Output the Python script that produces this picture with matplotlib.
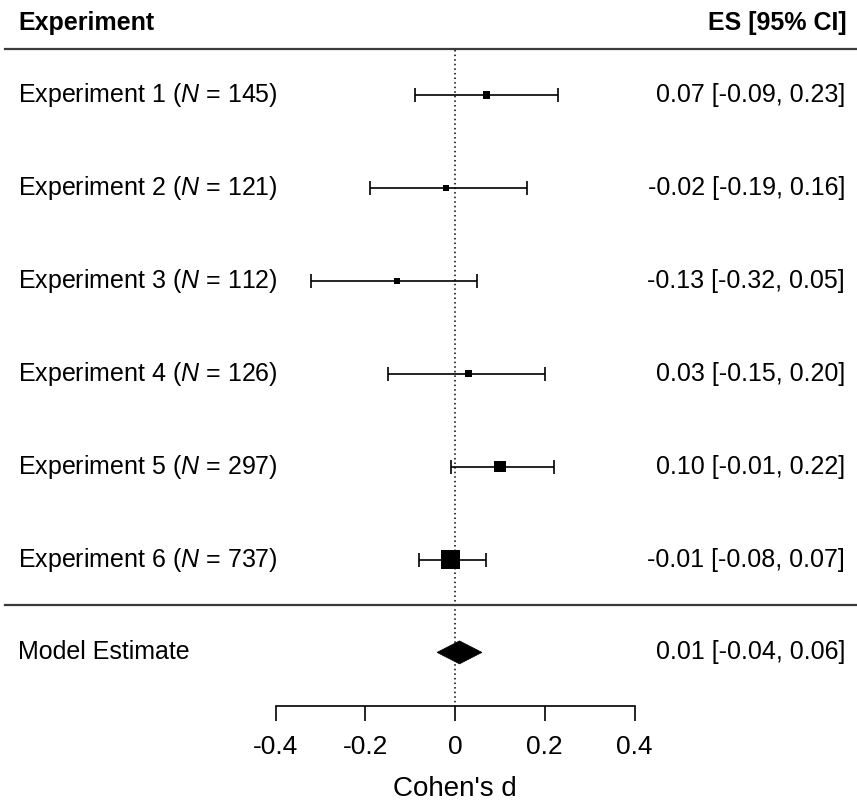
import matplotlib.pyplot as plt
import matplotlib.transforms as mtransforms
from matplotlib.patches import Polygon
import numpy as np

plt.rcParams['font.family'] = ['Liberation Sans', 'DejaVu Sans']
plt.rcParams['mathtext.fontset'] = 'custom'
plt.rcParams['mathtext.it'] = 'Liberation Sans:italic'
plt.rcParams['mathtext.rm'] = 'Liberation Sans'

# data
studies = ['Experiment 1', 'Experiment 2', 'Experiment 3',
           'Experiment 4', 'Experiment 5', 'Experiment 6']
n_obs = [145, 121, 112, 126, 297, 737]
es = np.array([0.07, -0.02, -0.13, 0.03, 0.10, -0.01])
ci_lo = np.array([-0.09, -0.19, -0.32, -0.15, -0.01, -0.08])
ci_hi = np.array([0.23, 0.16, 0.05, 0.20, 0.22, 0.07])
model_es, model_lo, model_hi = 0.01, -0.04, 0.06
ticks = [-0.4, -0.2, 0, 0.2, 0.4]
tick_labels = ['-0.4', '-0.2', '0', '0.2', '0.4']

W, H = 857, 805
fig = plt.figure(figsize=(W / 100, H / 100), dpi=100)
# axes spans from the top of the figure down to the x axis line
ax = fig.add_axes([275.5 / W, (H - 706) / H, 359 / W, 706 / H])
ax.set_xlim(-0.4, 0.4)
row_px = 92.9
top_px = 95
ax.set_ylim((706 - top_px) / row_px, -top_px / row_px)

def py(p):
    # pixel row -> data y
    return (p - top_px) / row_px

rows = np.arange(len(studies))
model_row = len(studies)

# box sizes like metafor: scaled 1/se into 0.5..1.5
inv_se = 3.92 / (ci_hi - ci_lo)
psize = 0.5 + (inv_se - inv_se.min()) / (inv_se.max() - inv_se.min())
box_px = psize * 12.4

ax.plot([0, 0], [py(50), py(706)], color='black', linestyle=(0, (1, 2)),
        linewidth=1.1, clip_on=False, zorder=1)

ax.errorbar(es, rows, xerr=[es - ci_lo, ci_hi - es], fmt='none',
            ecolor='black', elinewidth=1.2, capsize=5, capthick=1.2, zorder=2)
ax.scatter(es, rows, marker='s', s=(box_px * 0.72) ** 2, color='black',
           linewidths=0, zorder=3)

dh = 11.5 / row_px
diamond = Polygon([(model_lo, model_row), (model_es, model_row - dh),
                   (model_hi, model_row), (model_es, model_row + dh)],
                  closed=True, facecolor='black', edgecolor='black', linewidth=0.5)
ax.add_patch(diamond)

# separators running across the whole figure
trans = mtransforms.blended_transform_factory(fig.transFigure, ax.transData)
for p in (49, 605):
    ax.plot([5 / W, 1], [py(p), py(p)], transform=trans, color='#3a3a3a',
            linewidth=1.6, clip_on=False)

# left and right columns
lx, rx = 18 / W, 845 / W
ax.text(lx, py(23), 'Experiment', transform=trans, fontsize=18,
        fontweight='bold', ha='left', va='center')
ax.text(847 / W, py(23), 'ES [95% CI]', transform=trans, fontsize=18,
        fontweight='bold', ha='right', va='center')
for i, (name, n) in enumerate(zip(studies, n_obs)):
    ax.text(lx, i, name + ' ($\\it{N}$ = ' + str(n) + ')', transform=trans,
            fontsize=18, ha='left', va='center')
    ax.text(rx, i, f'{es[i]:.2f} [{ci_lo[i]:.2f}, {ci_hi[i]:.2f}]',
            transform=trans, fontsize=18, ha='right', va='center')
ax.text(lx, model_row, 'Model Estimate', transform=trans, fontsize=18,
        ha='left', va='center')
ax.text(rx, model_row, f'{model_es:.2f} [{model_lo:.2f}, {model_hi:.2f}]',
        transform=trans, fontsize=18, ha='right', va='center')

for s in ('top', 'left', 'right'):
    ax.spines[s].set_visible(False)
ax.spines['bottom'].set_linewidth(1.2)
ax.set_yticks([])
ax.set_xticks(ticks)
ax.set_xticklabels(tick_labels)
ax.tick_params(axis='x', direction='out', length=10.5, width=1.2, pad=10.5,
               labelsize=19)
ax.set_xlabel("Cohen's d", fontsize=20, labelpad=12)
ax.patch.set_visible(False)

fig.savefig('out.png', dpi=100, facecolor='white')
